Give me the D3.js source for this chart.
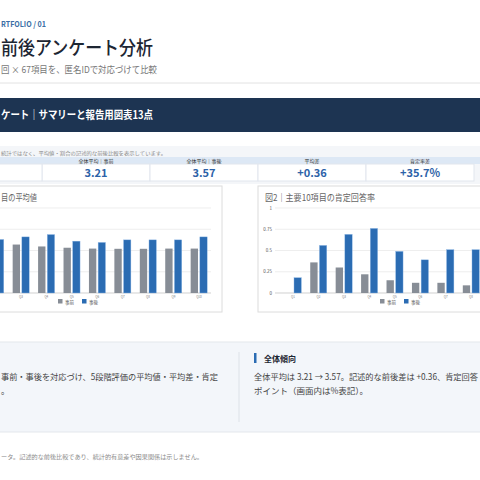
<!DOCTYPE html><html><head><meta charset="utf-8">
<script src="https://cdn.jsdelivr.net/npm/d3@7"></script>
<style>body{margin:0;background:#fff}svg{display:block;font-family:"Noto Sans CJK JP","Noto Sans",sans-serif}</style></head><body>
<svg id="c" width="480" height="480"></svg>
<script>
const items=["Q1","Q2","Q3","Q4","Q5","Q6","Q7","Q8","Q9","Q10"];
const meanPre=[3.3,3.3,3.28,3.19,3.13,3.09,3.08,3.08,3.09,3.09];
const meanPost=[3.6,3.52,3.64,3.75,3.44,3.38,3.5,3.5,3.5,3.64];
const posPre=[0,0.36,0.30,0.22,0.15,0.12,0.12,0.09,0.10,0.08];
const posPost=[0.18,0.56,0.69,0.76,0.49,0.39,0.51,0.51,0.46,0.50];
const kpiLabels=["全体平均｜事前","全体平均｜事後","平均差","肯定率差"];
const kpiValues=["3.21","3.57","+0.36","+35.7%"];
const meanTicks=[1,2,3,4,5];
const posTicks=[0,0.25,0.5,0.75,1];
const seriesNames=["事前","事後"];
const colors=["#878d96","#2b6cb3"];

const svg=d3.select("#c");
const T=(x,y,s,o={})=>{const t=svg.append("text").attr("x",x).attr("y",y).text(s)
 .attr("font-size",o.fs||9).attr("fill",o.fill||"#333").attr("text-anchor",o.a||"start")
 .attr("font-weight",o.w||400);if(o.ls)t.attr("letter-spacing",o.ls);
 if(o.len)t.attr("textLength",o.len).attr("lengthAdjust","spacingAndGlyphs");return t;};

T(1,27,"RTFOLIO / 01",{fs:8,fill:"#3b6ea5",w:700,len:45});
T(1,55,"前後アンケート分析",{fs:19,fill:"#1d2633",w:500,len:152});
T(1,73,"回 × 67項目を、匿名IDで対応づけて比較",{fs:9.5,fill:"#777",len:156});
svg.append("line").attr("x1",0).attr("x2",480).attr("y1",83).attr("y2",83).attr("stroke","#e2e2e2");
svg.append("rect").attr("x",0).attr("y",98).attr("width",480).attr("height",34).attr("fill","#1d3452");
T(1,119,"ケート｜サマリーと報告用図表13点",{fs:11,fill:"#fff",w:700,len:152});

// KPI strip
svg.append("rect").attr("x",0).attr("y",146).attr("width",480).attr("height",38).attr("fill","#f4f6f9");
T(1,155,"統計ではなく、平均値・割合の記述的な前後比較を表示しています。",{fs:5,fill:"#888",len:165});
svg.append("rect").attr("x",0).attr("y",157).attr("width",480).attr("height",7).attr("fill","#dde8f5");
const kx=d3.scaleBand().domain(kpiLabels).range([42,474]);
kpiLabels.forEach((l,i)=>{
 const x=kx(l);
 svg.append("rect").attr("x",x).attr("y",164).attr("width",kx.bandwidth()).attr("height",17).attr("fill","#fff").attr("stroke","#e1e6ee");
 T(x+kx.bandwidth()/2,162.5,l,{fs:5,fill:"#333",a:"middle"});
 T(x+kx.bandwidth()/2,177,kpiValues[i],{fs:11,fill:"#2c62a8",w:700,a:"middle"});
});
svg.append("rect").attr("x",-10).attr("y",164).attr("width",52).attr("height",17).attr("fill","#fff").attr("stroke","#e1e6ee");

function chart(px,title,titleX,titleLen,x0,pre,post,ticks,domain,legX){
 svg.append("rect").attr("x",px).attr("y",186).attr("width",264).attr("height",126).attr("fill","#fff").attr("stroke","#dcdcdc");
 T(titleX,201,title,{fs:9,fill:"#666",len:titleLen});
 const y=d3.scaleLinear().domain(domain).range([293,208]);
 const x=d3.scaleBand().domain(items).range([x0,x0+253]).paddingInner(0.35).paddingOuter(0.15);
 const g=svg.append("g");
 ticks.forEach(t=>{g.append("line").attr("x1",x0-6).attr("x2",x0+253).attr("y1",y(t)).attr("y2",y(t)).attr("stroke",t===domain[0]?"#bbb":"#e6e6e6").attr("stroke-width",0.7);
  if(x0>0)T(x0-9,y(t)+1.5,String(t),{fs:4.5,fill:"#555",a:"end"});});
 const xs=d3.scaleBand().domain([0,1]).range([0,x.bandwidth()]).paddingInner(0.2);
 [pre,post].forEach((arr,s)=>{
  g.selectAll(null).data(arr).enter().append("rect")
   .attr("x",(d,i)=>x(items[i])+xs(s)).attr("width",xs.bandwidth())
   .attr("y",d=>y(d)).attr("height",d=>y(domain[0])-y(d)).attr("fill",colors[s])
   .attr("stroke",s?"#8fb8e6":"none").attr("stroke-width",0.4);
 });
 items.forEach(q=>{const cx=x(q)+x.bandwidth()/2;if(cx>4&&cx<476)T(cx,297.5,q,{fs:3,fill:"#777",a:"middle"});});
 seriesNames.forEach((n,i)=>{const lx=legX+i*24;
  svg.append("rect").attr("x",lx).attr("y",299).attr("width",4.5).attr("height",4.5).attr("fill",colors[i]);
  T(lx+7,303.5,n,{fs:4.5,fill:"#555"});});
}
chart(-42,"目の平均値",1,36,-42,meanPre,meanPost,meanTicks,[1,5],58);
chart(258,"図2｜主要10項目の肯定回答率",265,110,281,posPre,posPost,posTicks,[0,1],380);

// Insights
svg.append("rect").attr("x",-2).attr("y",342).attr("width",484).attr("height",90).attr("fill","#f3f6fa").attr("stroke","#e3e7ec");
svg.append("line").attr("x1",239).attr("x2",239).attr("y1",352).attr("y2",422).attr("stroke","#dde2e8");
T(1,380,"事前・事後を対応づけ、5段階評価の平均値・平均差・肯定",{fs:8.5,fill:"#444",len:217});
T(1,394,"。",{fs:8.5,fill:"#444"});
svg.append("rect").attr("x",254).attr("y",353).attr("width",2.5).attr("height",10).attr("fill","#2b6cb3");
T(264,362,"全体傾向",{fs:8,fill:"#1d2633",w:700});
T(254,380,"全体平均は 3.21 → 3.57。記述的な前後差は +0.36、肯定回答",{fs:8.5,fill:"#444",len:224});
T(254,394,"ポイント（画面内は%表記）。",{fs:8.5,fill:"#444"});
T(1,459,"ータ。記述的な前後比較であり、統計的有意差や因果関係は示しません。",{fs:5.5,fill:"#888",len:202});
</script></body></html>
